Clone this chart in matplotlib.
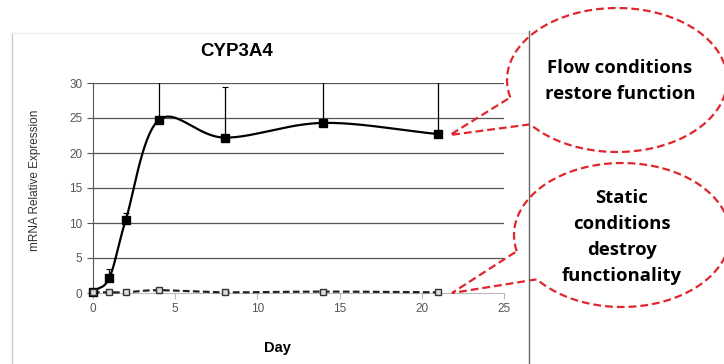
import numpy as np
import matplotlib
matplotlib.use('Agg')
from matplotlib import pyplot as plt
from matplotlib.path import Path
from matplotlib.patches import PathPatch

# Data
days = [0, 1, 2, 4, 8, 14, 21]
flow = [0.2, 2.2, 10.5, 24.7, 22.2, 24.3, 22.7]
flow_err = [0.0, 1.3, 1.0, 8.0, 7.3, 8.0, 9.0]
static = [0.1, 0.1, 0.1, 0.4, 0.1, 0.2, 0.1]

flow_note = "Flow conditions\nrestore function"
static_note = "Static\nconditions\ndestroy\nfunctionality"


def smooth(x, y, n=30):
    # Catmull-Rom style curve through the points, like Excel's smoothed line
    x = np.asarray(x, float)
    y = np.asarray(y, float)
    px = np.concatenate([[2 * x[0] - x[1]], x, [2 * x[-1] - x[-2]]])
    py = np.concatenate([[2 * y[0] - y[1]], y, [2 * y[-1] - y[-2]]])
    xs, ys = [], []
    t = np.linspace(0, 1, n)
    for i in range(1, len(px) - 2):
        for p, out in ((px, xs), (py, ys)):
            p0, p1, p2, p3 = p[i - 1], p[i], p[i + 1], p[i + 2]
            m1 = (p2 - p0) / 6
            m2 = (p3 - p1) / 6
            b1 = p1 + m1
            b2 = p2 - m2
            out.extend((1 - t) ** 3 * p1 + 3 * (1 - t) ** 2 * t * b1
                       + 3 * (1 - t) * t ** 2 * b2 + t ** 3 * p2)
    return np.array(xs), np.array(ys)


fig = plt.figure(figsize=(7.24, 3.64), dpi=100)
plt.rcParams['font.family'] = ['Liberation Sans', 'DejaVu Sans']

ax = fig.add_axes([93 / 724, 71 / 364, 411 / 724, 210 / 364])
ax.set_xlim(0, 25)
ax.set_ylim(0, 30)
for v in range(5, 31, 5):
    ax.axhline(v, color='#555555', lw=0.9, zorder=1)

sx, sy = smooth(days, flow)
ax.plot(sx, sy, color='black', lw=1.6, zorder=3, clip_on=False)
ax.errorbar(days, flow, yerr=[np.zeros(len(days)), flow_err], fmt='none',
            ecolor='black', elinewidth=0.9, capsize=2.5, capthick=0.8, zorder=2)
ax.plot(days, flow, 's', color='black', ms=6, zorder=4, clip_on=False)

tx, ty = smooth(days, static)
ax.plot(tx, ty, color='#222222', lw=1.6, ls=(0, (3, 1.5)), zorder=3, clip_on=False)
ax.plot(days, static, 's', mfc='#dddddd', mec='#333333', ms=4.5, mew=1,
        zorder=4, clip_on=False)

for s in ['top', 'right']:
    ax.spines[s].set_visible(False)
ax.spines['left'].set_color('#555555')
ax.spines['bottom'].set_color('#bbbbbb')
ax.set_xticks(range(0, 26, 5))
ax.set_yticks(range(0, 31, 5))
ax.tick_params(axis='x', length=4, color='#bbbbbb', labelsize=8.5, labelcolor='#555555')
ax.tick_params(axis='y', length=4, color='#555555', labelsize=8.5, labelcolor='#555555')
fig.text(237 / 724, 1 - 52 / 364, 'CYP3A4', fontsize=13.5, fontweight='bold',
         ha='center', va='center')
fig.text(277 / 724, 1 - 348 / 364, 'Day', fontsize=10.5, fontweight='bold',
         ha='center', va='center')
fig.text(35 / 724, 1 - 180 / 364, 'mRNA Relative Expression', rotation=90,
         fontsize=8.5, color='#333333', ha='center', va='center')

# overlay in pixel coordinates for frame and callouts
ov = fig.add_axes([0, 0, 1, 1], zorder=5)
ov.set_xlim(0, 724)
ov.set_ylim(364, 0)
ov.axis('off')
ov.patch.set_alpha(0)
ov.plot([12, 12], [33, 364], color='#cccccc', lw=1)
ov.plot([12, 529], [33, 33], color='#eeeeee', lw=1)
ov.plot([529, 529], [31, 364], color='#666666', lw=1)


def callout(cx, cy, a, b, t1, t2, tip):
    t = np.radians(np.linspace(t1, t2 + 360, 200))
    xs = cx + a * np.cos(t)
    ys = cy + b * np.sin(t)
    verts = list(zip(xs, ys)) + [tip, (xs[0], ys[0])]
    codes = [Path.MOVETO] + [Path.LINETO] * (len(verts) - 1)
    ov.add_patch(PathPatch(Path(verts, codes), facecolor='none',
                           edgecolor='#e0262c', lw=1.6, ls=(0, (3.5, 1.8))))


callout(617, 80, 110, 72, 166, 142, (450, 135))
callout(622, 235, 108, 72, 167, 142, (452, 293))
ov.text(620, 81, flow_note, ha='center', va='center', fontsize=13.3,
        fontweight='bold', family=['Open Sans', 'DejaVu Sans'], linespacing=1.55)
ov.text(622, 237, static_note, ha='center', va='center', fontsize=13.3,
        fontweight='bold', family=['Open Sans', 'DejaVu Sans'], linespacing=1.55)

fig.savefig('out.png', dpi=100)
